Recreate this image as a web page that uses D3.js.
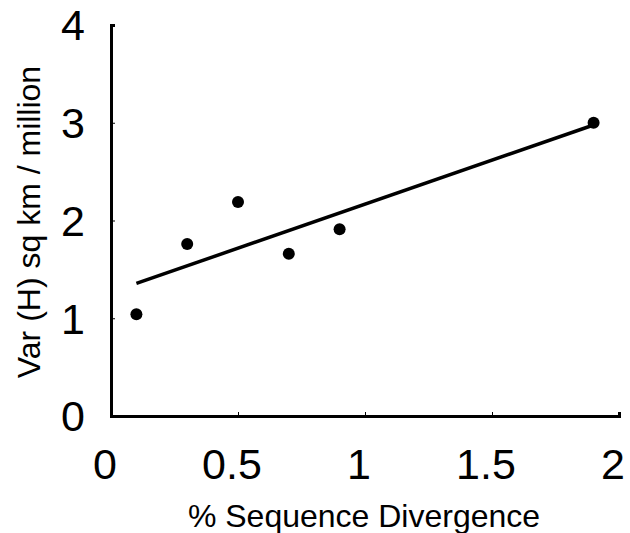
<!DOCTYPE html>
<html>
<head>
<meta charset="utf-8">
<script src="https://cdn.jsdelivr.net/npm/d3@7"></script>
<style>
  body { margin: 0; background: #fff; }
  text { font-family: "Liberation Sans", Arial, sans-serif; fill: #000; }
</style>
</head>
<body>
<div id="chart"></div>
<script>
// data
var divergence = [0.1, 0.3, 0.5, 0.7, 0.9, 1.9];
var variance = [1.04, 1.76, 2.19, 1.66, 1.91, 3.0];
var xTicks = [0, 0.5, 1, 1.5, 2];
var yTicks = [0, 1, 2, 3, 4];

var svgWidth = 630;
var svgHeight = 533;

var margin = { top: 25, right: 11, bottom: 117, left: 111 };
var chartWidth = svgWidth - margin.left - margin.right;
var chartHeight = svgHeight - margin.top - margin.bottom;

var svg = d3.select("#chart")
  .append("svg")
  .attr("width", svgWidth)
  .attr("height", svgHeight);

var chartGroup = svg.append("g")
  .attr("transform", "translate(" + margin.left + "," + margin.top + ")");

var xScale = d3.scaleLinear().domain([0, 2]).range([0, chartWidth]);
var yScale = d3.scaleLinear().domain([0, 4]).range([chartHeight, 0]);

// axes with short inward ticks
var bottomAxis = d3.axisBottom(xScale).tickValues(xTicks).tickSize(-4).tickFormat("");
var leftAxis = d3.axisLeft(yScale).tickValues(yTicks).tickSize(-4).tickFormat("");

var xAxisG = chartGroup.append("g")
  .attr("transform", "translate(0," + chartHeight + ")")
  .call(bottomAxis);
var yAxisG = chartGroup.append("g").call(leftAxis);

[xAxisG, yAxisG].forEach(function(g) {
  g.select(".domain").attr("stroke", "#000").attr("stroke-width", 3);
  g.selectAll(".tick line").attr("stroke", "#000").attr("stroke-width", 1);
});

// tick labels
chartGroup.selectAll(".xlab")
  .data(xTicks)
  .enter()
  .append("text")
  .attr("class", "xlab")
  .attr("x", function(d) { return xScale(d) - 6; })
  .attr("y", chartHeight + 63)
  .attr("font-size", "43px")
  .attr("text-anchor", "middle")
  .text(function(d) { return d; });

chartGroup.selectAll(".ylab")
  .data(yTicks)
  .enter()
  .append("text")
  .attr("class", "ylab")
  .attr("x", -26)
  .attr("y", function(d) { return yScale(d); })
  .attr("dy", "0.36em")
  .attr("font-size", "43px")
  .attr("text-anchor", "end")
  .text(function(d) { return d; });

// least squares trend line
var mx = d3.mean(divergence), my = d3.mean(variance);
var sxy = d3.sum(divergence, function(d, i) { return (d - mx) * (variance[i] - my); });
var sxx = d3.sum(divergence, function(d) { return (d - mx) * (d - mx); });
var slope = sxy / sxx;
var intercept = my - slope * mx;
var xExtent = d3.extent(divergence);

chartGroup.append("line")
  .attr("x1", xScale(xExtent[0]))
  .attr("y1", yScale(intercept + slope * xExtent[0]))
  .attr("x2", xScale(xExtent[1]))
  .attr("y2", yScale(intercept + slope * xExtent[1]))
  .attr("stroke", "#000")
  .attr("stroke-width", 3.5);

chartGroup.selectAll("circle")
  .data(divergence)
  .enter()
  .append("circle")
  .attr("cx", function(d) { return xScale(d); })
  .attr("cy", function(d, i) { return yScale(variance[i]); })
  .attr("r", 6)
  .attr("fill", "#000");

// axis titles
svg.append("text")
  .attr("x", 364)
  .attr("y", 527)
  .attr("font-size", "32px")
  .attr("text-anchor", "middle")
  .text("% Sequence Divergence");

svg.append("text")
  .attr("transform", "translate(40,222) rotate(-90)")
  .attr("font-size", "32px")
  .attr("text-anchor", "middle")
  .text("Var (H) sq km / million");
</script>
</body>
</html>
